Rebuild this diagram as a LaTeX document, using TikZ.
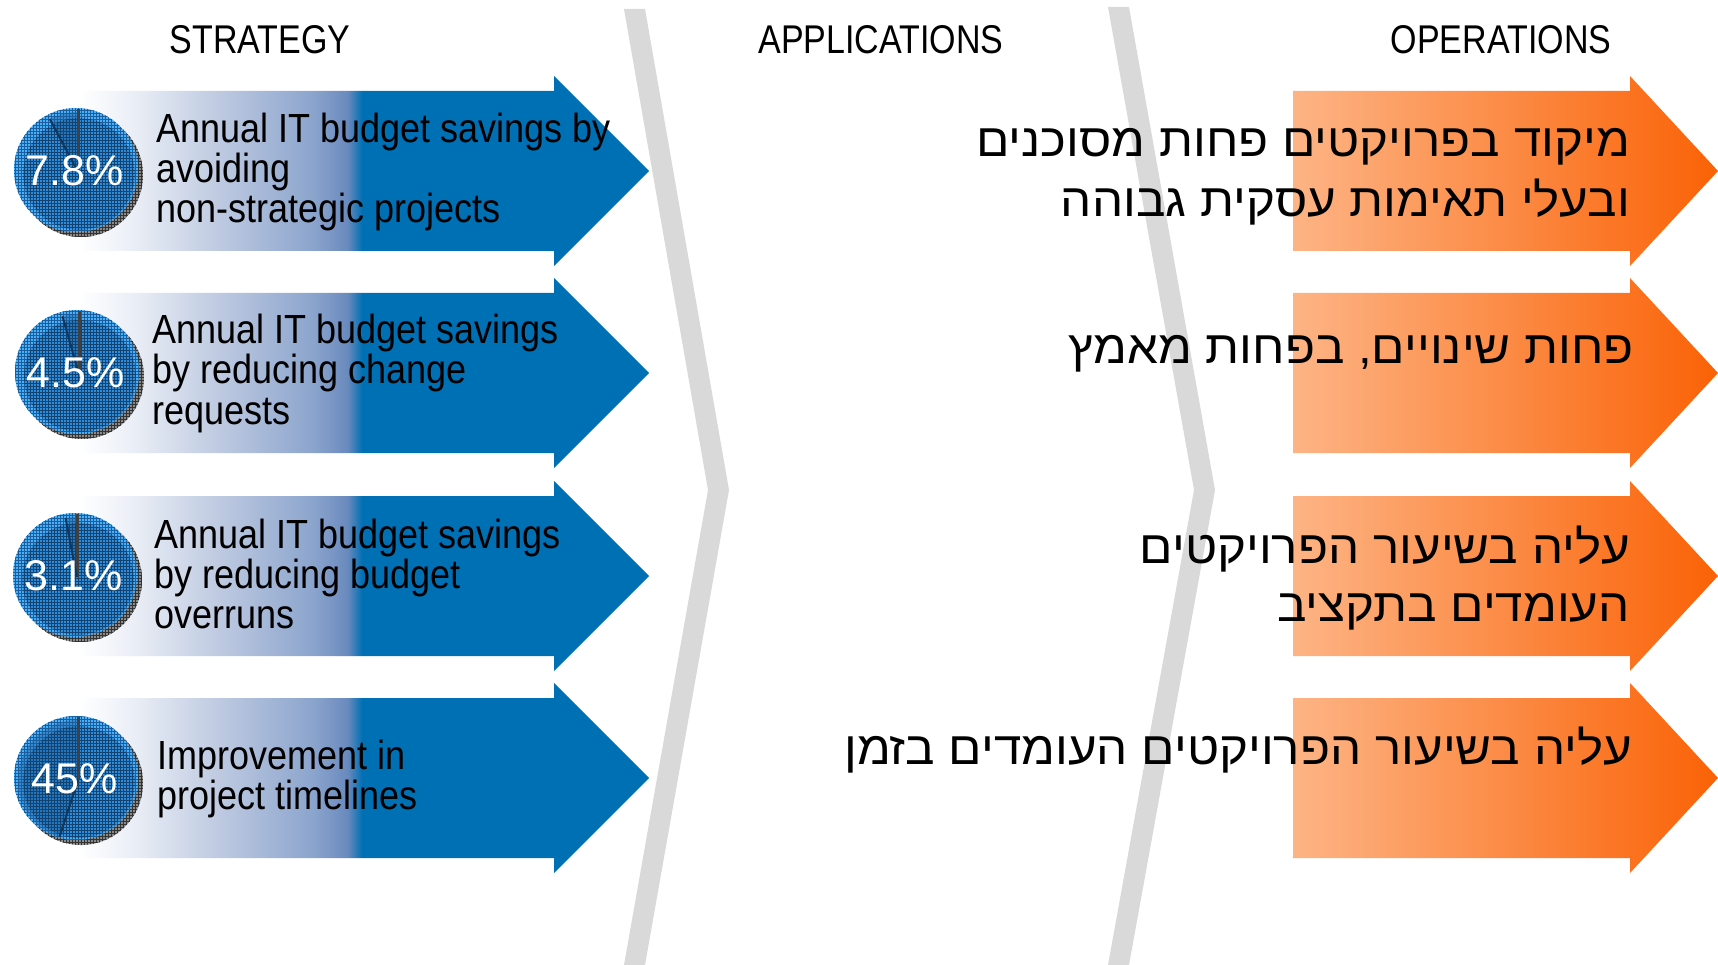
\documentclass[tikz,border=0pt]{standalone}
\usepackage{fontspec}
\setmainfont{Liberation Sans}
\newfontfamily\hebfont[Script=Hebrew]{Liberation Sans}
\TeXXeTstate=1
\usetikzlibrary{patterns}
\definecolor{chevgray}{HTML}{D9D9D9}
\definecolor{bluefill}{HTML}{0070B4}
\definecolor{bA}{HTML}{EAEEF6}
\definecolor{bB}{HTML}{BCC8E0}
\definecolor{bC}{HTML}{8CA5CD}
\definecolor{bD}{HTML}{6A8ABE}
\definecolor{orL}{HTML}{FDB485}
\definecolor{orR}{HTML}{FA6206}
\definecolor{pieLight}{HTML}{4AB0F8}
\definecolor{pieMain}{HTML}{2F8CD8}
\definecolor{pieDark}{HTML}{1A5E9E}
\definecolor{pieShadow}{HTML}{8A8A8A}
\pgfdeclarehorizontalshading{blueshade}{100bp}{color(0bp)=(white); color(25bp)=(white); color(29.7bp)=(bA); color(37.6bp)=(bB); color(45.4bp)=(bC); color(48.5bp)=(bD); color(49.8bp)=(bluefill); color(100bp)=(bluefill)}
\newcommand\vst[2]{\scalebox{1}[#1]{#2}}
\newcommand\hst[1]{\scalebox{1.12}[1.05]{#1}}
\newcommand\bluearrow[1]{%
  \shade[shading=blueshade] (80,#1-80) -- (554,#1-80) -- (554,#1-95) -- (649,#1) -- (554,#1+95) -- (554,#1+80) -- (80,#1+80) -- cycle;}
\newcommand\orangearrow[1]{%
  \shade[left color=orL, right color=orR] (1293,#1-80) -- (1630,#1-80) -- (1630,#1-95) -- (1718,#1) -- (1630,#1+95) -- (1630,#1+80) -- (1293,#1+80) -- cycle;}
\newcommand\mypie[5]{%
  \fill[pieShadow] (#1+3,#2+3) circle[radius=62];
  \fill[pattern=grid, pattern color=black!80] (#1+3,#2+3) circle[radius=62];
  \fill[pieLight] (#1-2,#2-2) circle[radius=62];
  \fill[pattern=grid, pattern color=pieDark, fill opacity=.2] (#1-2,#2-2) circle[radius=62];
  \fill[pieMain] (#1+1,#2+2) circle[radius=56];
  \fill[pieDark, fill opacity=.45] (#1,#2) -- (#1,#2-60) arc[start angle=-90, end angle=-90-#3, radius=60] -- cycle;
  \fill[pattern=grid, pattern color=pieDark!70!black, fill opacity=.35] (#1+1,#2+2) circle[radius=56];
  \draw[line width=3, black!75] (#1,#2-63) -- (#1,#2);
  \draw[line width=2, pieDark!60!black] (#1,#2) -- ++(-90-#3:60);
  \node[pct] (#5) at (#1-3,#2-1) {#4};}
\tikzset{
  hdr/.style={font=\fontsize{34}{40}\selectfont, inner sep=0},
  entxt/.style={font=\fontsize{36}{40}\selectfont, anchor=base west, inner sep=0},
  hetxt/.style={font=\hebfont\fontsize{44}{50}\selectfont, anchor=base east, inner sep=0},
  pct/.style={font=\fontsize{43}{46}\selectfont, text=white, inner sep=0},
}
\begin{document}
\begin{tikzpicture}[x=1pt,y=-1pt]
\useasboundingbox (0,0) rectangle (1718,965);
\fill[white] (0,0) rectangle (1718,965);
% chevrons
\fill[chevgray] (624,9) -- (645,9) -- (729,490) -- (645,965) -- (624,965) -- (708,490) -- cycle;
\fill[chevgray] (1108,7) -- (1129,7) -- (1215,490) -- (1129,965) -- (1108,965) -- (1194,490) -- cycle;
% headers
\node[hdr] (hstrat) at (260,40) {\vst{1.18}{STRATEGY}};
\node[hdr] (happ) at (881,40) {\vst{1.18}{APPLICATIONS}};
\node[hdr] (hops) at (1501,40) {\vst{1.18}{OPERATIONS}};
% blue arrows
\bluearrow{171}
\bluearrow{373}
\bluearrow{576}
\bluearrow{778}
% orange arrows
\orangearrow{171}
\orangearrow{373}
\orangearrow{576}
\orangearrow{778}
% pies
\mypie{78}{172}{28}{7.8\%}{p1}
\mypie{79}{374}{16}{4.5\%}{p2}
\mypie{77}{577}{11}{3.1\%}{p3}
\mypie{78}{780}{162}{45\%}{p4}
% english text
\node[entxt] (e1a) at (156,143) {\vst{1.13}{Annual IT budget savings by}};
\node[entxt] (e1b) at (156,183) {\vst{1.13}{avoiding}};
\node[entxt] (e1c) at (156,223) {\vst{1.13}{non-strategic projects}};
\node[entxt] (e2a) at (152,344) {\vst{1.13}{Annual IT budget savings}};
\node[entxt] (e2b) at (152,384) {\vst{1.13}{by reducing change}};
\node[entxt] (e2c) at (152,424) {\vst{1.13}{requests}};
\node[entxt] (e3a) at (154,548) {\vst{1.13}{Annual IT budget savings}};
\node[entxt] (e3b) at (154,588) {\vst{1.13}{by reducing budget}};
\node[entxt] (e3c) at (154,628) {\vst{1.13}{overruns}};
\node[entxt] (e4a) at (157,769) {\vst{1.13}{Improvement in}};
\node[entxt] (e4b) at (157,809) {\vst{1.13}{project timelines}};
% hebrew text
\node[hetxt] (h1a) at (1630,157) {\hst{\beginR מיקוד בפרויקטים פחות מסוכנים\endR}};
\node[hetxt] (h1b) at (1630,217) {\hst{\beginR ובעלי תאימות עסקית גבוהה\endR}};
\node[hetxt] (h2) at (1634,363) {\hst{\beginR פחות שינויים, בפחות מאמץ\endR}};
\node[hetxt] (h3a) at (1630,563) {\hst{\beginR עליה בשיעור הפרויקטים\endR}};
\node[hetxt] (h3b) at (1630,621) {\hst{\beginR העומדים בתקציב\endR}};
\node[hetxt] (h4) at (1632,764) {\hst{\beginR עליה בשיעור הפרויקטים העומדים בזמן\endR}};
\end{tikzpicture}
\end{document}
